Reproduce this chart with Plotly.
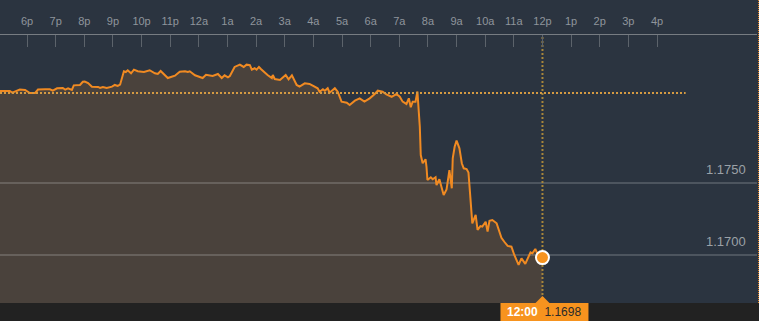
import pandas as pd
import plotly.graph_objects as go

# ---------------- data ----------------
BASE = pd.Timestamp("2017-08-23 18:00")  # the "6p" tick
minutes = [-57, -46, -36, -31, -23, -15, -4, 6, 17, 23, 38, 48, 54, 63, 75, 80, 86, 94, 98, 111,
           117, 121, 128, 136, 149, 153, 159, 167, 178, 184, 190, 195, 203, 207, 211, 218, 224, 232, 245, 257,
           268, 274, 280, 289, 295, 303, 310, 320, 331, 337, 341, 352, 362, 368, 375, 383, 389, 400, 408, 414,
           421, 425, 435, 446, 454, 460, 467, 471, 477, 481, 486, 490, 498, 504, 513, 515, 519, 530, 542, 548,
           555, 559, 565, 571, 582, 592, 603, 609, 613, 620, 624, 630, 634, 645, 651, 659, 670, 676, 687, 697,
           707, 718, 728, 735, 745, 753, 764, 774, 781, 787, 795, 800, 804, 808, 814, 818, 823, 825, 829, 835,
           837, 839, 846, 850, 856, 858, 864, 869, 873, 879, 885, 890, 892, 896, 900, 906, 911, 915, 921, 925,
           929, 933, 940, 944, 950, 954, 961, 965, 969, 975, 984, 994, 1000, 1007, 1015, 1021, 1030, 1036, 1044, 1055,
           1059, 1065, 1069, 1080]
prices = [1.18139, 1.18139, 1.18139, 1.18128, 1.18139, 1.18149, 1.18146, 1.18125, 1.18125, 1.18149,
          1.18151, 1.18151, 1.18142, 1.18158, 1.18160, 1.18149, 1.18158, 1.18146, 1.18178, 1.18181,
          1.18203, 1.18205, 1.18194, 1.18169, 1.18167, 1.18160, 1.18167, 1.18160, 1.18169, 1.18181,
          1.18174, 1.18183, 1.18276, 1.18271, 1.18283, 1.18262, 1.18287, 1.18276, 1.18271, 1.18283,
          1.18262, 1.18257, 1.18278, 1.18252, 1.18229, 1.18238, 1.18245, 1.18273, 1.18276, 1.18271,
          1.18276, 1.18248, 1.18236, 1.18229, 1.18252, 1.18245, 1.18243, 1.18257, 1.18229, 1.18248,
          1.18234, 1.18243, 1.18306, 1.18322, 1.18306, 1.18322, 1.18319, 1.18287, 1.18297, 1.18287,
          1.18306, 1.18292, 1.18264, 1.18250, 1.18229, 1.18250, 1.18222, 1.18215, 1.18250, 1.18220,
          1.18248, 1.18224, 1.18181, 1.18169, 1.18192, 1.18188, 1.18169, 1.18158, 1.18134, 1.18151,
          1.18141, 1.18158, 1.18127, 1.18158, 1.18134, 1.18065, 1.18058, 1.18042, 1.18072, 1.18088,
          1.18065, 1.18088, 1.18116, 1.18141, 1.18134, 1.18116, 1.18099, 1.18118, 1.18099, 1.18065,
          1.18049, 1.18088, 1.18026, 1.18065, 1.18065, 1.18135, 1.17891, 1.17694, 1.17637, 1.17665,
          1.17613, 1.17521, 1.17540, 1.17526, 1.17540, 1.17486, 1.17526, 1.17463, 1.17417, 1.17456,
          1.17590, 1.17463, 1.17672, 1.17752, 1.17794, 1.17741, 1.17637, 1.17602, 1.17597, 1.17572,
          1.17382, 1.17220, 1.17278, 1.17174, 1.17201, 1.17197, 1.17231, 1.17162, 1.17238, 1.17243,
          1.17220, 1.17120, 1.17092, 1.17063, 1.17058, 1.17000, 1.16931, 1.16977, 1.16938, 1.17019,
          1.17012, 1.17042, 1.17012, 1.16982]

tick_hours = list(range(0, 23))
tick_labels = ["6p", "7p", "8p", "9p", "10p", "11p", "12a", "1a", "2a", "3a", "4a", "5a",
               "6a", "7a", "8a", "9a", "10a", "11a", "12p", "1p", "2p", "3p", "4p"]
grid_levels = [1.1750, 1.1700]
grid_labels = ["1.1750", "1.1700"]
prev_close = 1.18125
prev_close_end_min = 1380
x_range_min = [-56.6, 1529.5]
y_range = [1.166667, 1.185278]
last_time_label = "12:00"
last_price_label = "1.1698"

# ---------------- figure ----------------
W, H = 759, 321
times = [BASE + pd.Timedelta(minutes=m) for m in minutes]
tickvals = [BASE + pd.Timedelta(hours=h) for h in tick_hours]
xr = [BASE + pd.Timedelta(minutes=m) for m in x_range_min]
last_t = times[-1]
ydom = [18 / H, 286 / H]

BG = "#2b3440"
FILL = "#4a423c"
ORANGE = "#f08a22"
FONT = "Liberation Sans, Arial, sans-serif"

fig = go.Figure()
fig.add_trace(go.Scatter(x=times, y=prices, mode="lines", fill="tozeroy",
                         fillcolor=FILL, line=dict(width=0, color=FILL), hoverinfo="skip"))
for lvl in grid_levels:
    fig.add_trace(go.Scatter(x=xr, y=[lvl, lvl], mode="lines",
                             line=dict(color="rgba(255,255,255,0.33)", width=1), hoverinfo="skip"))
fig.add_trace(go.Scatter(x=times, y=prices, mode="lines",
                         line=dict(color=ORANGE, width=2), hoverinfo="skip"))
# vertical dotted line at the last time (drawn under the end marker)
fig.add_trace(go.Scatter(x=[last_t, last_t], y=y_range, mode="lines",
                         line=dict(color="#a8863a", width=2, dash="2px,2px"), hoverinfo="skip"))
fig.add_trace(go.Scatter(x=[last_t], y=[prices[-1]], mode="markers",
                         marker=dict(size=13, color="#f7931e", line=dict(color="white", width=2)),
                         cliponaxis=False, hoverinfo="skip"))

shapes = [
    # bottom strip
    dict(type="rect", xref="paper", yref="paper", x0=0, x1=1, y0=0, y1=ydom[0],
         fillcolor="#222222", line=dict(width=0), layer="above"),
    # previous close dotted line
    dict(type="line", xref="x", yref="y", x0=xr[0], x1=BASE + pd.Timedelta(minutes=prev_close_end_min),
         y0=prev_close, y1=prev_close, line=dict(color="#d49a42", width=2, dash="2px,2px"), layer="above"),
    # orange label box
    dict(type="rect", xref="x", xsizemode="pixel", xanchor=last_t, x0=-42, x1=46,
         yref="paper", y0=0, y1=ydom[0], fillcolor="#f7931e", line=dict(width=0), layer="above"),
    # triangle pointer
    dict(type="path", xref="x", xsizemode="pixel", xanchor=last_t,
         yref="paper", ysizemode="pixel", yanchor=ydom[0],
         path="M-8,-1 L0,7 L8,-1 Z", fillcolor="#f7931e", line=dict(width=0), layer="above"),
    # right edge dotted border
    dict(type="line", xref="paper", yref="paper", x0=758.5 / W, x1=758.5 / W, y0=ydom[0], y1=1,
         line=dict(color="#e8892a", width=1, dash="1px,1px"), layer="above"),
]

annotations = []
for lvl, lab in zip(grid_levels, grid_labels):
    annotations.append(dict(xref="paper", yref="y", x=748 / W, y=lvl, xanchor="right", yanchor="bottom",
                            yshift=4, text=lab, showarrow=False,
                            font=dict(family=FONT, size=13, color="#9ba1a7")))
annotations.append(dict(xref="x", yref="paper", x=last_t, y=9 / H, xanchor="center", yanchor="middle",
                        xshift=2, showarrow=False,
                        text="<b>" + last_time_label + "</b>&nbsp;&nbsp;<span style='color:#2a2a2a'>"
                             + last_price_label + "</span>",
                        font=dict(family=FONT, size=12, color="white")))

fig.update_layout(
    width=W, height=H, margin=dict(l=0, r=0, t=0, b=0),
    paper_bgcolor=BG, plot_bgcolor=BG, showlegend=False,
    shapes=shapes, annotations=annotations,
    xaxis=dict(type="date", range=xr, domain=[0, 757 / W], side="top", anchor="y",
               showline=True, linecolor="#777c82", linewidth=1,
               ticks="inside", ticklen=12, tickwidth=1, tickcolor="#5c636b",
               tickvals=tickvals, ticktext=tick_labels, ticklabelstandoff=5,
               tickfont=dict(family=FONT, size=11, color="#8f959c"),
               showgrid=False, zeroline=False, fixedrange=True),
    yaxis=dict(range=y_range, domain=ydom, showgrid=False, zeroline=False,
               showticklabels=False, showline=False, fixedrange=True),
)

fig.write_html("out.html")
